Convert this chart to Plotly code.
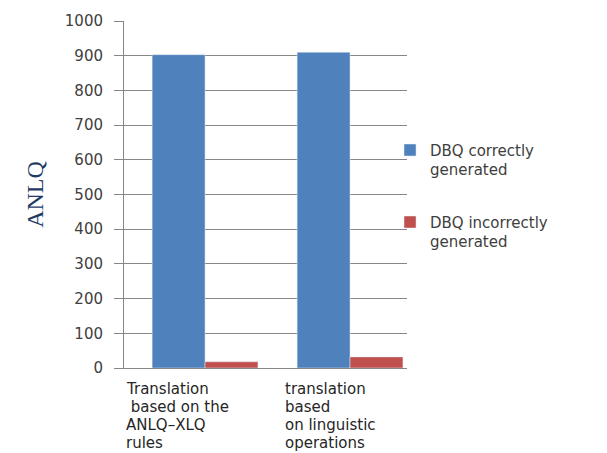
import plotly.graph_objects as go

categories = ["Translation based on the ANLQ–XLQ rules", "translation based on linguistic operations"]
category_lines = [
    ["Translation", "\u00a0based on the", "ANLQ–XLQ", "rules"],
    ["translation", "based", "on linguistic", "operations"],
]
series_names = ["DBQ correctly<br>generated", "DBQ incorrectly<br>generated"]
correct_values = [903, 910]
incorrect_values = [18, 32]
y_ticks = [0, 100, 200, 300, 400, 500, 600, 700, 800, 900, 1000]

x_pos = list(range(len(categories)))

fig = go.Figure()
fig.add_trace(go.Bar(x=x_pos, y=correct_values, name=series_names[0],
                     marker=dict(color="#4F81BD"), legendgroup="a"))
fig.add_trace(go.Bar(x=x_pos, y=incorrect_values, name=series_names[1],
                     marker=dict(color="#C0504D"), legendgroup="b"))

label_shift = [-81, -67]
line_step = 18
for i, lines in enumerate(category_lines):
    for j, line in enumerate(lines):
        fig.add_annotation(x=x_pos[i], xref="x", y=0, yref="paper", yanchor="middle",
                           xanchor="left", align="left", xshift=label_shift[i],
                           yshift=-21 - j * line_step,
                           text=line, showarrow=False,
                           font=dict(family="DejaVu Sans", size=15, color="#262626"))

fig.update_layout(
    width=607, height=453,
    margin=dict(l=124, r=200, t=21, b=85),
    paper_bgcolor="white", plot_bgcolor="white",
    barmode="group", bargap=0.27, bargroupgap=0,
    showlegend=True,
    legend=dict(x=0.94, xanchor="left", y=0.675, yanchor="top", valign="top",
                tracegroupgap=30, traceorder="grouped",
                font=dict(family="DejaVu Sans", size=15, color="#404040"),
                bgcolor="rgba(0,0,0,0)"),
    xaxis=dict(range=[-0.559, 1.393], showticklabels=False, showgrid=False,
               showline=True, linecolor="#868686", linewidth=1, zeroline=False,
               ticks=""),
    yaxis=dict(range=[0, 1000], tickvals=y_ticks, showgrid=True, gridcolor="#868686",
               gridwidth=1, showline=True, linecolor="#868686", linewidth=1,
               ticks="outside", ticklen=9, tickcolor="#868686", ticklabelstandoff=8,
               zeroline=False,
               tickfont=dict(family="DejaVu Sans", size=15, color="#404040"),
               title=dict(text="ANLQ", standoff=14,
                          font=dict(family="Liberation Serif", size=24, color="#1F3A64"))),
)

fig.write_html("out.html")
